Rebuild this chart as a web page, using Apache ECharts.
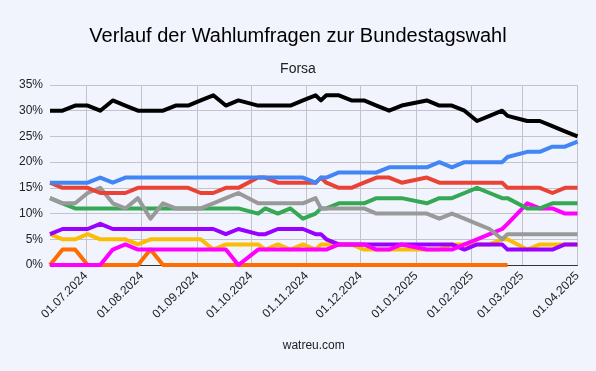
<!DOCTYPE html>
<html>
<head>
<meta charset="utf-8">
<script src="https://cdn.jsdelivr.net/npm/echarts@6/dist/echarts.min.js"></script>
<style>
html,body{margin:0;padding:0;background:#F1F4FD;}
#chart{width:596px;height:371px;}
</style>
</head>
<body>
<div id="chart"></div>
<script>
const dates = [
 '2024-06-11','2024-06-18','2024-06-25','2024-07-02','2024-07-09','2024-07-16','2024-07-23','2024-07-30',
 '2024-08-06','2024-08-13','2024-08-20','2024-08-27','2024-09-03','2024-09-10','2024-09-17','2024-09-24',
 '2024-10-05','2024-10-09','2024-10-16','2024-10-23','2024-10-30','2024-11-06','2024-11-09','2024-11-12',
 '2024-11-19','2024-11-26','2024-12-03','2024-12-10','2024-12-17','2024-12-24','2025-01-07','2025-01-14',
 '2025-01-21','2025-01-28','2025-02-04','2025-02-11','2025-02-18','2025-02-21','2025-03-04','2025-03-11',
 '2025-03-18','2025-03-25','2025-04-01'
];
const cduCsu = [30,30,31,31,30,32,31,30,30,30,31,31,32,33,31,32,31,31,31,31,32,33,32,33,33,32,32,31,30,31,32,31,31,30,28,29,30,29,28,28,27,26,25];
const afd    = [16,16,16,16,17,16,17,17,17,17,17,17,17,17,17,17,17,17,17,17,17,16,17,17,18,18,18,18,19,19,19,20,19,20,20,20,20,21,22,22,23,23,24];
const spd    = [16,15,15,15,14,14,14,15,15,15,15,15,14,14,15,15,17,17,16,16,16,16,17,16,15,15,16,17,17,16,17,16,16,16,16,16,16,15,15,15,14,15,15];
const gruene = [13,12,11,11,11,11,11,11,11,11,11,11,11,11,11,11,10,11,10,11,9,10,11,11,12,12,12,13,13,13,12,13,13,14,15,14,13,13,11,11,12,12,12];
const sonstige=[13,12,12,14,15,12,11,13,9,12,11,11,11,12,13,14,12,12,12,12,12,13,11,11,11,11,11,10,10,10,10,9,10,9,8,7,5,6,6,6,6,6,6];
const bsw    = [6,7,7,7,8,7,7,7,7,7,7,7,7,7,6,7,6,6,7,7,7,6,6,5,4,4,4,4,4,4,4,4,4,3,4,4,4,3,3,3,3,4,4];
const fdp    = [6,5,5,6,5,5,5,4,5,5,5,5,5,3,4,4,4,3,4,3,4,3,4,4,4,4,3,3,3,3,3,3,4,4,4,4,5,5,3,4,4,4,4];
const linke  = [0,0,0,0,0,3,4,3,3,3,3,3,3,3,3,0,3,3,3,3,3,3,3,3,4,4,4,3,3,4,3,3,3,4,5,6,7,8,12,11,11,10,10];
const fw     = [0,3,3,0,0,0,0,0,3,0,0,0,0,0,0,0,0,0,0,0,0,0,0,0,0,0,0,0,0,0,0,0,0,0,0,0,0,0,null,null,null,null,null];
const yTicks = [0,5,10,15,20,25,30,35];

const FONT = 'Liberation Sans, Arial, sans-serif';
function mk(name, arr, color){
  return {
    name: name, type: 'line', showSymbol: false, symbol: 'none', smooth: false,
    connectNulls: false,
    lineStyle: {width: 4, color: color, join: 'round'},
    itemStyle: {color: color},
    data: dates.map((d, i) => [d, arr[i]])
  };
}

const chart = echarts.init(document.getElementById('chart'), null, {renderer: 'canvas'});
chart.setOption({
  backgroundColor: '#F1F4FD',
  animation: false,
  title: [
    {text: 'Verlauf der Wahlumfragen zur Bundestagswahl', left: 'center', top: 21,
     textStyle: {fontSize: 20, fontWeight: 'normal', color: '#000', fontFamily: FONT}},
    {text: 'Forsa', left: 'center', top: 57,
     textStyle: {fontSize: 14, fontWeight: 'normal', color: '#222', fontFamily: FONT}}
  ],
  grid: {left: 50, right: 18.5, top: 85, bottom: 106, containLabel: false},
  xAxis: {
    type: 'time',
    min: dates[0], max: dates[dates.length - 1],
    splitNumber: 10,
    name: 'watreu.com', nameLocation: 'middle', nameGap: 75,
    nameTextStyle: {fontSize: 12, color: '#222', fontFamily: FONT},
    axisLine: {show: true, lineStyle: {color: '#333', width: 1}},
    axisTick: {show: false},
    splitLine: {show: true, showMinLine: false, lineStyle: {color: '#C2C3CB', width: 1}},
    axisLabel: {rotate: 45, fontSize: 12, color: '#222', fontFamily: FONT, margin: 9,
      formatter: '{dd}.{MM}.{yyyy}', showMinLabel: false, hideOverlap: false}
  },
  yAxis: {
    type: 'value', min: yTicks[0], max: yTicks[yTicks.length - 1], interval: 5,
    axisLine: {show: false}, axisTick: {show: false},
    splitLine: {show: true, lineStyle: {color: '#C2C3CB', width: 1}},
    axisLabel: {formatter: '{value}%', fontSize: 12, color: '#222', fontFamily: FONT, margin: 7}
  },
  series: [
    mk('Freie Wähler', fw, '#FF6D01'),
    mk('FDP', fdp, '#FBBC04'),
    mk('BSW', bsw, '#9900FF'),
    mk('Linke', linke, '#FF00FF'),
    mk('Grüne', gruene, '#34A853'),
    mk('Sonstige', sonstige, '#999999'),
    mk('SPD', spd, '#EA4335'),
    mk('AfD', afd, '#4285F4'),
    mk('CDU/CSU', cduCsu, '#000000')
  ]
});
</script>
</body>
</html>
